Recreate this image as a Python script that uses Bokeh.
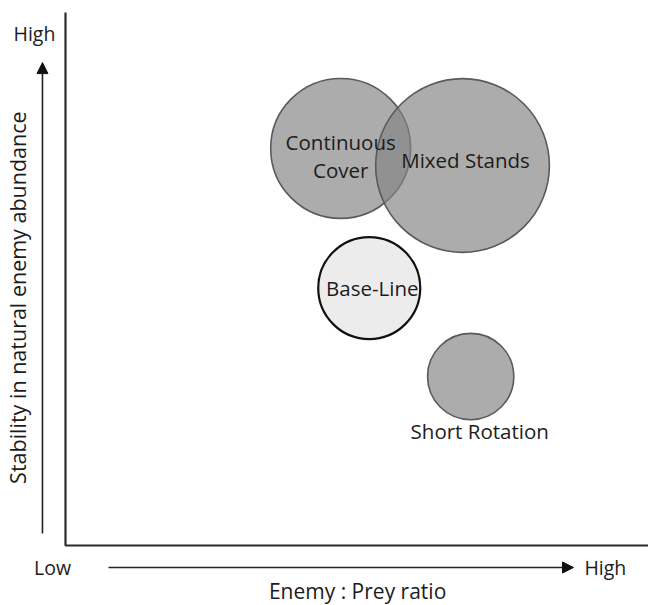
import math
from bokeh.plotting import figure
from bokeh.models import Range1d, ColumnDataSource, Arrow, NormalHead
from bokeh.core.properties import value
from bokeh.embed import file_html
from bokeh.resources import INLINE

# ---- data (0-100 conceptual scale) ----
systems = ["Continuous\nCover", "Mixed Stands", "Base-Line", "Short Rotation"]
enemy_prey = [47.2, 68.1, 52.1, 69.5]      # x position
stability = [74.5, 71.3, 48.3, 31.7]       # y position
spread = [12.0, 14.9, 8.75, 7.4]           # bubble radius (x units)
is_baseline = [False, False, True, False]

x_title = "Enemy : Prey ratio"
y_title = "Stability in natural enemy abundance"
low_label = "Low"
high_label = "High"

# ---- styling / layout ----
FONT = value("Open Sans")
TXT = "#1c1c1c"
label_dx = [0, 3, 3, 9]       # px offsets of bubble labels
label_dy = [8, -5, 0, 54]
LINE_GAP = 28                 # px between lines of a two-line label

W, H = 648, 605
p = figure(width=W, height=H, output_backend="svg", toolbar_location=None,
           x_range=Range1d(-11.149, 100.0), y_range=Range1d(-11.257, 102.25),
           min_border=0, min_border_left=0, min_border_right=0,
           min_border_top=0, min_border_bottom=0,
           x_axis_location=None, y_axis_location=None)
p.outline_line_color = None
p.grid.visible = False
p.background_fill_color = "white"
p.border_fill_color = "white"

grey = [i for i, b in enumerate(is_baseline) if not b]
base = [i for i, b in enumerate(is_baseline) if b]

src_g = ColumnDataSource(dict(x=[enemy_prey[i] for i in grey], y=[stability[i] for i in grey],
                              r=[spread[i] for i in grey]))
src_b = ColumnDataSource(dict(x=[enemy_prey[i] for i in base], y=[stability[i] for i in base],
                              r=[spread[i] for i in base]))

p.circle(x="x", y="y", radius="r", source=src_g, fill_color="#858585", fill_alpha=0.68,
         line_color="#5a5a5a", line_width=1.6)
p.circle(x="x", y="y", radius="r", source=src_b, fill_color="#ececec", fill_alpha=1.0,
         line_color="#111111", line_width=2.2)

# one row per label line
lx, ly, lt, ldx, ldy = [], [], [], [], []
for i, name in enumerate(systems):
    lines = name.split("\n")
    n = len(lines)
    for k, line in enumerate(lines):
        lx.append(enemy_prey[i])
        ly.append(stability[i])
        lt.append(line)
        ldx.append(label_dx[i])
        ldy.append(label_dy[i] + (k - (n - 1) / 2) * LINE_GAP)

lab = ColumnDataSource(dict(x=lx, y=ly, t=lt, dx=ldx, dy=ldy))
p.text(x="x", y="y", text="t", source=lab, x_offset="dx", y_offset="dy",
       text_align="center", text_baseline="middle", text_font=FONT,
       text_font_size="20.5px", text_color=TXT)

# ---- frame lines (axes) ----
p.line(x=[0, 0, 100], y=[100, 0, 0], line_color="#2a2a2a", line_width=2.2)

# ---- arrows ----
p.add_layout(Arrow(end=NormalHead(size=11, fill_color="#111111", line_color="#111111"),
                   x_start=7.38, y_start=-4.13, x_end=87.14, y_end=-4.13,
                   line_color="#222222", line_width=1.6))
p.add_layout(Arrow(end=NormalHead(size=11, fill_color="#111111", line_color="#111111"),
                   x_start=-3.95, y_start=2.25, x_end=-3.95, y_end=90.6,
                   line_color="#222222", line_width=1.6))

# ---- texts ----
p.text(x=[-5.32, -2.23, 92.6], y=[96.06, -4.13, -4.13],
       text=[high_label, low_label, high_label],
       text_align="center", text_baseline="middle", text_font=FONT,
       text_font_size="19.5px", text_color=TXT)
p.text(x=[50.1], y=[-8.45], text=[x_title], text_align="center", text_baseline="middle",
       text_font=FONT, text_font_size="21px", text_color=TXT)
p.text(x=[-8.23], y=[46.5], text=[y_title], angle=math.pi / 2, text_align="center",
       text_baseline="middle", text_font=FONT, text_font_size="21.5px", text_color=TXT)

open("out.html", "w").write(file_html(p, INLINE))
